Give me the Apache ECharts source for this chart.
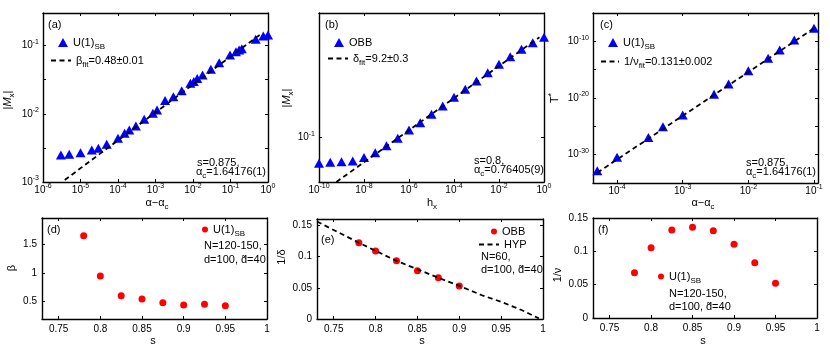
<!DOCTYPE html>
<html>
<head>
<meta charset="utf-8">
<script src="https://cdn.jsdelivr.net/npm/echarts@6/dist/echarts.min.js"></script>
<style>html,body{margin:0;padding:0;background:#fff}#chart{width:830px;height:350px}</style>
</head>
<body>
<div id="chart"></div>
<script>
// --- data ---
// (a) |M_x| vs alpha-alpha_c
var aX = [3e-6, 5e-6, 1e-5, 2e-5, 3e-5, 5e-5, 1e-4, 1.5e-4, 2e-4, 3e-4, 5e-4, 8.5e-4, 1.1e-3, 1.8e-3, 3e-3, 5e-3, 8.5e-3, 1.05e-2, 1.3e-2, 1.8e-2, 3e-2, 5e-2, 0.097, 0.14, 0.17, 0.2, 0.47, 0.75, 1];
var aY = [2.49e-3, 2.55e-3, 2.69e-3, 2.94e-3, 3.12e-3, 3.57e-3, 4.37e-3, 5.17e-3, 5.78e-3, 6.62e-3, 8.3e-3, 1.02e-2, 1.14e-2, 1.56e-2, 1.78e-2, 2.18e-2, 2.8e-2, 2.96e-2, 3.3e-2, 3.71e-2, 4.49e-2, 5.61e-2, 7.27e-2, 8.1e-2, 8.6e-2, 9.0e-2, 0.124, 0.138, 0.143];
var aFitX = [3.8e-6, 0.716];
var aFitY = [1.07e-3, 0.154];
var aXTicks = [1e-6, 1e-5, 1e-4, 1e-3, 1e-2, 1e-1, 1];
var aYTicks = [1e-3, 3.162e-3, 1e-2, 3.162e-2, 1e-1];
var aYLabels = [1e-3, 1e-2, 1e-1];

// (b) |M_x| vs h_x
var bX = [1e-10, 3.162e-10, 1e-9, 3.162e-9, 1e-8, 3.162e-8, 1e-7, 3.162e-7, 1e-6, 3.162e-6, 1e-5, 3.162e-5, 1e-4, 3.162e-4, 1e-3, 3.162e-3, 1e-2, 3.162e-2, 1e-1, 3.162e-1, 1];
var bY = [0.067, 0.068, 0.0687, 0.0694, 0.0734, 0.079, 0.0881, 0.0989, 0.1127, 0.126, 0.144, 0.1637, 0.1875, 0.2125, 0.242, 0.275, 0.314, 0.354, 0.397, 0.44, 0.479];
var bFitX = [5.9e-10, 0.63];
var bFitY = [0.05, 0.48];
var bXTicks = [1e-10, 1e-8, 1e-6, 1e-4, 1e-2, 1];
var bYTicks = [0.1];

// (c) T* vs alpha-alpha_c
var cX = [5e-5, 1e-4, 3e-4, 5e-4, 1e-3, 3e-3, 5e-3, 1e-2, 2e-2, 3e-2, 5e-2, 1e-1];
var cY = [1.5e-33, 3.5e-31, 1.1e-27, 8.5e-26, 1e-23, 4.5e-20, 3e-18, 6.6e-16, 1e-13, 3e-12, 1.7e-10, 2e-8];
var cFitX = [5e-5, 0.1];
var cFitY = [6.6e-34, 2e-8];
var cXTicks = [1e-4, 1e-3, 1e-2, 1e-1];
var cYTicks = [1e-30, 1e-25, 1e-20, 1e-15, 1e-10];
var cYLabels = [1e-30, 1e-20, 1e-10];

// (d)-(f) exponents vs s
var sVals = [0.78, 0.8, 0.825, 0.85, 0.875, 0.9, 0.925, 0.95];
var dBeta = [1.644, 0.945, 0.604, 0.547, 0.482, 0.443, 0.455, 0.43];
var eS = [0.78, 0.8, 0.825, 0.85, 0.875, 0.9];
var eInvDelta = [0.122, 0.1088, 0.0933, 0.0773, 0.066, 0.0528];
var eHypS = [0.73, 0.78, 0.825, 0.875, 0.9, 0.927, 0.951, 0.975, 0.995];
var eHypY = [0.156, 0.122, 0.093, 0.066, 0.053, 0.038, 0.027, 0.014, 0.001];
var fInvNu = [0.068, 0.1055, 0.132, 0.136, 0.131, 0.1105, 0.083, 0.052];
var sTicks = [0.75, 0.8, 0.85, 0.9, 0.95, 1];
var dYTicks = [0.5, 1, 1.5];
var eYTicks = [0, 0.05, 0.1, 0.15];
var fYTicks = [0, 0.05, 0.1, 0.15];

var FONT = '"Liberation Sans", Arial, Helvetica, sans-serif';
var INK = '#000000', BLUE = '#0000ff', RED = '#ff0000';

// rich styles: tick labels (b/e) and free text (t/s/p/i)
var R = {
  b: { fontFamily: FONT, fontSize: 10, lineHeight: 14, color: INK },
  e: { fontFamily: FONT, fontSize: 7, lineHeight: 2, verticalAlign: 'top', color: INK }
};
var RT = {
  t: { fontFamily: FONT, fontSize: 11, lineHeight: 16, color: INK },
  i: { fontFamily: FONT, fontSize: 11, lineHeight: 16, fontStyle: 'italic', color: INK },
  s: { fontFamily: FONT, fontSize: 8, lineHeight: 6, verticalAlign: 'bottom', color: INK },
  p: { fontFamily: FONT, fontSize: 9, lineHeight: 4, verticalAlign: 'top', color: INK }
};

function pairs(xs, ys) { return xs.map(function(x, i) { return [x, ys[i]]; }); }
function logFmt(v) { return '{b|10}{e|' + Math.round(Math.log(v) / Math.LN10) + '}'; }
function linFmt(v) { return '{b|' + v + '}'; }

function axisPair(dim, gi, type, min, max, ticks, labels, fmt, margin) {
  var common = {
    type: type, gridIndex: gi, min: min, max: max,
    splitLine: { show: false },
    axisLine: { show: true, onZero: false, lineStyle: { color: INK, width: 1.4 } },
    axisTick: { show: true, inside: true, length: 3, customValues: ticks, lineStyle: { color: INK, width: 1 } }
  };
  if (type === 'log') common.logBase = 10;
  var main = Object.assign({}, common, {
    position: dim === 'x' ? 'bottom' : 'left',
    axisLabel: { customValues: labels, formatter: fmt, margin: margin, rich: R, color: INK, fontFamily: FONT, fontSize: 10 }
  });
  var mirror = Object.assign({}, common, {
    position: dim === 'x' ? 'top' : 'right',
    axisLabel: { show: false }
  });
  return [main, mirror];
}

var grids = [
  { left: 43, top: 13, width: 225, height: 169 },
  { left: 319, top: 13, width: 225, height: 169 },
  { left: 593, top: 13, width: 225, height: 170 },
  { left: 42, top: 218, width: 225, height: 101 },
  { left: 317, top: 219, width: 226, height: 100 },
  { left: 593, top: 218, width: 224, height: 100 }
];

var xAxes = [].concat(
  axisPair('x', 0, 'log', 1e-6, 1, aXTicks, aXTicks, logFmt, 1),
  axisPair('x', 1, 'log', 1e-10, 1, bXTicks, bXTicks, logFmt, 1),
  axisPair('x', 2, 'log', 4.3e-5, 0.115, cXTicks, cXTicks, logFmt, 1),
  axisPair('x', 3, 'value', 0.73, 1, sTicks, sTicks, linFmt, 3),
  axisPair('x', 4, 'value', 0.73, 1, sTicks, sTicks, linFmt, 3),
  axisPair('x', 5, 'value', 0.73, 1, sTicks, sTicks, linFmt, 3)
);
var yAxes = [].concat(
  axisPair('y', 0, 'log', 1e-3, 0.3, aYTicks, aYLabels, logFmt, 4),
  axisPair('y', 1, 'log', 0.05, 0.7, bYTicks, bYTicks, logFmt, 4),
  axisPair('y', 2, 'log', 1e-35, 1e-5, cYTicks, cYLabels, logFmt, 4),
  axisPair('y', 3, 'value', 0.2, 1.95, dYTicks, dYTicks, linFmt, 5),
  axisPair('y', 4, 'value', 0, 0.16, eYTicks, eYTicks, linFmt, 5),
  axisPair('y', 5, 'value', 0, 0.15, fYTicks, fYTicks, linFmt, 5)
);

function pts(name, gi, xs, ys, symbol, size, color) {
  return { type: 'scatter', name: name, xAxisIndex: 2 * gi, yAxisIndex: 2 * gi, data: pairs(xs, ys),
    symbol: symbol, symbolSize: size, itemStyle: { color: color, opacity: 1 }, z: 2 };
}
function dashed(name, gi, xs, ys) {
  return { type: 'line', name: name, xAxisIndex: 2 * gi, yAxisIndex: 2 * gi, data: pairs(xs, ys),
    symbol: 'none', itemStyle: { color: INK }, lineStyle: { color: INK, width: 1.8, type: [5, 3.5] }, z: 3 };
}

var LEG = {
  'a-pts': '{t|U(1)}{s|SB}',
  'a-fit': '{t|β}{s|fit}{t|=0.48±0.01}',
  'b-pts': '{t|OBB}',
  'b-fit': '{t|δ}{s|fit}{t|=9.2±0.3}',
  'c-pts': '{t|U(1)}{s|SB}',
  'c-fit': '{t|1/ν}{s|fit}{t|=0.131±0.002}',
  'd-pts': '{t|U(1)}{s|SB}',
  'e-pts': '{t|OBB}',
  'e-hyp': '{t|HYP}',
  'f-pts': '{t|U(1)}{s|SB}'
};
// line entries: hide the marker that echarts puts on a line icon
function lineItem(n) { return { name: n, itemStyle: { opacity: 0 } }; }
function legend(names, left, top, w, h) {
  return { data: names, left: left, top: top, orient: 'vertical', itemWidth: w, itemHeight: h, itemGap: 0,
    selectedMode: false, padding: 0, formatter: function(n) { return LEG[n]; },
    textStyle: { rich: RT, fontFamily: FONT, fontSize: 11, color: INK } };
}

function T(x, y, text, opt) {
  opt = opt || {};
  return { type: 'text', x: x, y: y, rotation: opt.rot || 0, z: 10,
    style: { text: text, rich: RT, fill: INK, font: (opt.size || 11) + 'px ' + FONT,
      align: opt.align || 'left', verticalAlign: 'middle', textAlign: opt.align || 'left', textVerticalAlign: 'middle' } };
}
var texts = [
  T(48, 25, '{t|(a)}'), T(325, 25, '{t|(b)}'), T(600, 25, '{t|(c)}'),
  T(47, 230, '{t|(d)}'), T(321, 240, '{t|(e)}'), T(598, 230, '{t|(f)}'),
  T(197, 163, '{t|s=0.875,}'), T(196, 172, '{t|α}{s|c}{t|=1.64176(1)}'),
  T(474, 161, '{t|s=0.8,}'), T(474, 170, '{t|α}{s|c}{t|=0.76405(9)}'),
  T(746, 163, '{t|s=0.875,}'), T(746, 172, '{t|α}{s|c}{t|=1.64176(1)}'),
  T(204, 246, '{t|N=120-150,}'), T(204, 260, '{t|d=100, d\u0303=40}'),
  T(481, 257, '{t|N=60,}'), T(481, 270, '{t|d=100, d\u0303=40}'),
  T(669, 294, '{t|N=120-150,}'), T(669, 307, '{t|d=100, d\u0303=40}'),
  // axis titles
  T(8, 100, '{t||}{i|M}{s|x}{t||}', { rot: Math.PI / 2, align: 'center' }),
  T(157, 203, '{t|α−α}{s|c}', { align: 'center' }),
  T(287, 98, '{t||}{i|M}{s|x}{t||}', { rot: Math.PI / 2, align: 'center' }),
  T(432, 203, '{t|h}{s|x}', { align: 'center' }),
  T(555, 98, '{t|T}{p|*}', { rot: Math.PI / 2, align: 'center' }),
  T(703, 203, '{t|α−α}{s|c}', { align: 'center' }),
  T(12, 268, '{t|β}', { rot: Math.PI / 2, align: 'center' }),
  T(153, 341, '{t|s}', { align: 'center' }),
  T(282, 257, '{t|1/δ}', { rot: Math.PI / 2, align: 'center' }),
  T(422, 341, '{t|s}', { align: 'center' }),
  T(558, 275, '{t|1/ν}', { rot: Math.PI / 2, align: 'center' }),
  T(703, 341, '{t|s}', { align: 'center' })
];

var chart = echarts.init(document.getElementById('chart'), null, { renderer: 'canvas' });
chart.setOption({
  animation: false,
  backgroundColor: '#ffffff',
  grid: grids,
  xAxis: xAxes,
  yAxis: yAxes,
  legend: [
    legend(['a-pts'], 58, 37, 10, 9),
    legend([lineItem('a-fit')], 50, 55, 20, 9),
    legend(['b-pts'], 334, 37, 10, 9),
    legend([lineItem('b-fit')], 327, 53, 20, 9),
    legend(['c-pts'], 608, 37, 10, 9),
    legend([lineItem('c-fit')], 600, 56, 18, 9),
    legend(['d-pts'], 202, 224, 6, 6),
    legend(['e-pts'], 491, 226, 6, 6),
    legend([lineItem('e-hyp')], 478, 239, 20, 6),
    legend(['f-pts'], 658, 271, 6, 6)
  ],
  series: [
    pts('a-pts', 0, aX, aY, 'triangle', [10, 9], BLUE),
    dashed('a-fit', 0, aFitX, aFitY),
    pts('b-pts', 1, bX, bY, 'triangle', [10, 9], BLUE),
    dashed('b-fit', 1, bFitX, bFitY),
    pts('c-pts', 2, cX, cY, 'triangle', [10, 9], BLUE),
    dashed('c-fit', 2, cFitX, cFitY),
    pts('d-pts', 3, sVals, dBeta, 'circle', 7, RED),
    pts('e-pts', 4, eS, eInvDelta, 'circle', 7, RED),
    dashed('e-hyp', 4, eHypS, eHypY),
    pts('f-pts', 5, sVals, fInvNu, 'circle', 7, RED)
  ],
  graphic: texts
});
</script>
</body>
</html>
